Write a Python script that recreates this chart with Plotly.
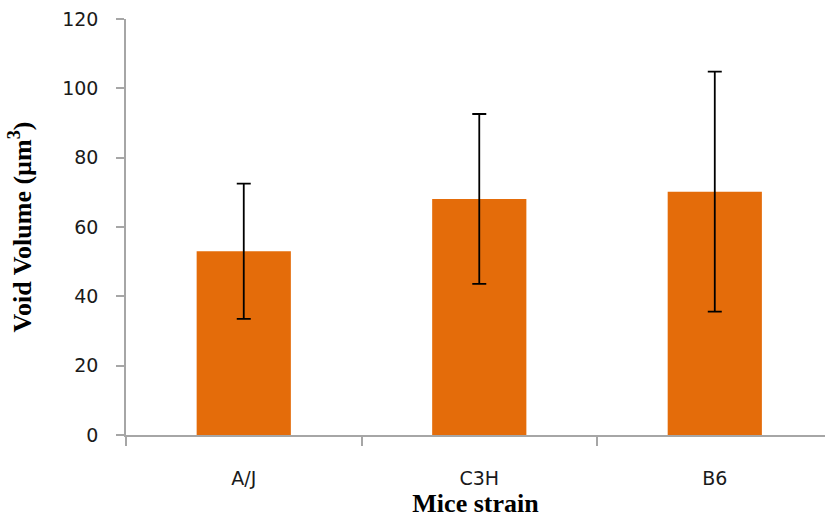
import plotly.graph_objects as go

strains = ["A/J", "C3H", "B6"]
void_volume = [53.0, 68.1, 70.2]
void_sd = [19.5, 24.5, 34.6]
y_ticks = [0, 20, 40, 60, 80, 100, 120]

axis_color = "#a6a6a6"
tick_font = dict(family="DejaVu Sans", size=19, color="#1a1a1a")
title_font = dict(family="Liberation Serif", size=26, color="#000000")

fig = go.Figure()
fig.add_trace(go.Bar(
    x=strains,
    y=void_volume,
    width=0.4,
    marker=dict(color="#E46C0A", line=dict(width=0)),
    error_y=dict(type="data", array=void_sd, symmetric=True,
                 color="#000000", thickness=1.8, width=7),
))

fig.update_layout(
    width=825, height=519,
    margin=dict(l=126, r=0, t=19, b=84),
    paper_bgcolor="white", plot_bgcolor="white",
    showlegend=False,
    xaxis=dict(
        range=[-0.5, 2.468],
        showline=True, linecolor=axis_color, linewidth=1.5,
        ticks="outside", tickson="boundaries", ticklen=9, tickcolor=axis_color, tickwidth=1.5,
        tickfont=tick_font, ticklabelstandoff=25,
        showgrid=False, zeroline=False,
        title=dict(text="<b>Mice strain</b>", font=title_font, standoff=2),
    ),
    yaxis=dict(
        range=[0, 120], tickvals=y_ticks,
        showline=True, linecolor=axis_color, linewidth=1.5,
        ticks="outside", ticklen=8, tickcolor=axis_color, tickwidth=1.5,
        tickfont=tick_font, ticklabelstandoff=14,
        showgrid=False, zeroline=False,
        title=dict(text="<b>Void Volume (µm<sup>3</sup>)</b>", font=title_font, standoff=23),
    ),
)

fig.write_html("out.html")
